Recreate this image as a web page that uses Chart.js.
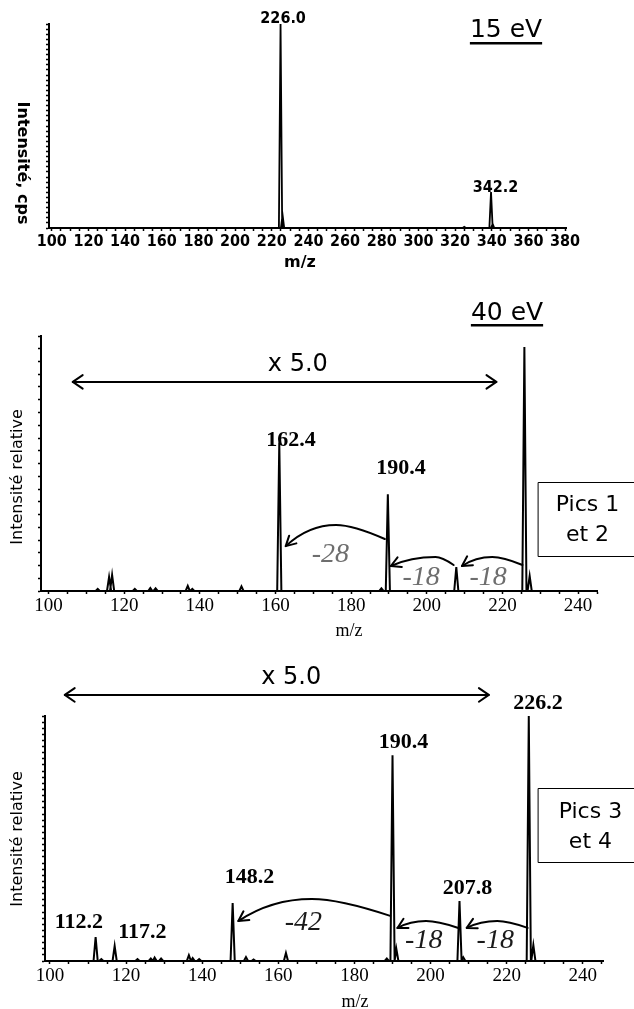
<!DOCTYPE html>
<html>
<head>
<meta charset="utf-8">
<script src="https://cdn.jsdelivr.net/npm/chart.js@4.4.0/dist/chart.umd.min.js"></script>
<style>
  body { margin: 0; background: #fff; width: 634px; }
  canvas { display: block; }
</style>
</head>
<body>
<canvas id="spec15" width="634" height="285"></canvas>
<canvas id="spec40a" width="634" height="355"></canvas>
<canvas id="spec40b" width="634" height="369"></canvas>
<script>
// --- 15 eV spectrum (peak centre m/z, relative height) ---
const mz15 = [224.8, 225.9, 325.0, 339.6, 340.5];
const int15 = [100, 6.5, 0.6, 17.6, 2.0];

// --- 40 eV, pics 1 et 2 ---
const mz40a = [113.0, 116.0, 116.8, 122.8, 126.9, 128.3, 136.8, 138.0, 151.0, 161.0, 188.0, 189.7, 207.8, 225.8, 227.2];
const int40a = [0.8, 5.5, 6.3, 0.8, 1.2, 1.0, 2.0, 0.8, 1.8, 58.2, 1.0, 37.9, 9.4, 95.7, 5.9];

// --- 40 eV, pics 3 et 4 ---
const mz40b = [112.0, 113.5, 117.0, 123.0, 126.5, 127.5, 129.2, 136.5, 137.5, 139.2, 148.0, 151.5, 153.5, 162.0, 188.5, 190.0, 191.0, 207.6, 208.6, 225.8, 227.0];
const int40b = [9.8, 0.8, 6.1, 0.8, 1.0, 1.4, 1.0, 2.4, 1.2, 0.8, 23.7, 1.6, 0.6, 3.3, 1.0, 84.0, 5.0, 24.5, 1.5, 100, 6.5];

const SANS = '"DejaVu Sans", sans-serif';
const COND = '"DejaVu Sans Condensed", "DejaVu Sans", sans-serif';
const SERIF = '"Liberation Serif", "Times New Roman", serif';

// one triangle per peak, all on the same baseline
const peakLine = (mz, ints, hw, xmin, xmax) => {
    const pts = [{x: xmin, y: 0}];
    mz.forEach((m, i) => {
        pts.push({x: m - hw, y: 0}, {x: m, y: ints[i]}, {x: m + hw, y: 0});
    });
    pts.push({x: xmax, y: 0});
    return pts;
};

const chevron = (ctx, x, y, ang, len, spread) => {
    ctx.beginPath();
    ctx.moveTo(x + Math.cos(ang + Math.PI - spread) * len, y + Math.sin(ang + Math.PI - spread) * len);
    ctx.lineTo(x, y);
    ctx.lineTo(x + Math.cos(ang + Math.PI + spread) * len, y + Math.sin(ang + Math.PI + spread) * len);
    ctx.stroke();
};

const notesPlugin = {
    id: 'notes',
    afterDraw(chart, args, opts) {
        const {ctx} = chart;
        const px = m => chart.scales.x.getPixelForValue(m);
        const py = v => chart.scales.y.getPixelForValue(v);
        ctx.save();
        ctx.strokeStyle = '#000';
        ctx.lineCap = 'round';
        ctx.lineJoin = 'round';

        (opts.spans || []).forEach(s => {
            const x1 = px(s.from), x2 = px(s.to), y = py(s.y);
            ctx.lineWidth = 2;
            ctx.beginPath();
            ctx.moveTo(x1, y);
            ctx.lineTo(x2, y);
            ctx.stroke();
            chevron(ctx, x1, y, Math.PI, 12, 0.6);
            chevron(ctx, x2, y, 0, 12, 0.6);
        });

        (opts.arcs || []).forEach(a => {
            const sx = px(a.from[0]), sy = py(a.from[1]);
            const hx = px(a.top[0]), hy = py(a.top[1]);
            const ex = px(a.to[0]), ey = py(a.to[1]);
            const c1x = hx + (sx - hx) * 0.35;
            const c2x = hx - (hx - ex) * 0.55;
            ctx.lineWidth = 2;
            ctx.beginPath();
            ctx.moveTo(sx, sy);
            ctx.quadraticCurveTo(c1x, hy, hx, hy);
            ctx.quadraticCurveTo(c2x, hy, ex, ey);
            ctx.stroke();
            chevron(ctx, ex, ey, Math.atan2(ey - hy, ex - c2x), 11, 0.5);
        });

        (opts.boxes || []).forEach(b => {
            ctx.lineWidth = 1;
            const x1 = Math.round(px(b.x1)) + 0.5, y1 = Math.round(py(b.y1)) + 0.5;
            const y2 = Math.round(py(b.y2)) + 0.5;
            ctx.strokeRect(x1, y1, 700, y2 - y1);
        });

        ctx.textAlign = 'center';
        ctx.textBaseline = 'middle';
        (opts.labels || []).forEach(l => {
            ctx.font = l.font;
            ctx.fillStyle = l.color || '#000';
            ctx.fillText(l.text, px(l.x), py(l.y));
        });

        // texts placed in canvas pixels (titles outside the plot)
        (opts.texts || []).forEach(t => {
            ctx.save();
            ctx.font = t.font;
            ctx.fillStyle = '#000';
            ctx.translate(t.px, t.py);
            ctx.rotate(t.rot || 0);
            ctx.fillText(t.text, 0, 0);
            if (t.underline) {
                const w = ctx.measureText(t.text).width;
                ctx.fillRect(-w / 2, t.underline, w, 2.5);
            }
            ctx.restore();
        });
        ctx.restore();
    }
};

const buildSpectrum = (cfg) => {
    const canvas = document.getElementById(cfg.id);
    const H = canvas.height;
    const {area} = cfg;
    return new Chart(canvas.getContext('2d'), {
        type: 'line',
        data: {
            datasets: [{
                data: peakLine(cfg.mz, cfg.ints, cfg.halfWidth, cfg.xMin, cfg.xMax),
                borderColor: '#000',
                borderWidth: cfg.lineWidth,
                pointRadius: 0,
                tension: 0,
                fill: false
            }]
        },
        options: {
            responsive: false,
            animation: false,
            events: [],
            layout: {padding: {left: 0, top: area.top, right: 634 - area.right, bottom: 0}},
            plugins: {
                legend: {display: false},
                tooltip: {enabled: false},
                notes: cfg.notes
            },
            scales: {
                x: {
                    type: 'linear',
                    min: cfg.xMin,
                    max: cfg.xMax,
                    afterFit: (s) => { s.height = H - area.bottom; },
                    border: {color: '#000', width: 2},
                    grid: {drawOnChartArea: false, tickLength: 3, tickColor: '#000', tickWidth: 1.5},
                    ticks: {
                        stepSize: cfg.xStep,
                        includeBounds: false,
                        autoSkip: false,
                        maxRotation: 0,
                        padding: 1,
                        color: '#000',
                        font: cfg.tickFont,
                        callback: (v) => (Math.abs(v % 20) < 1e-6 ? String(v) : '')
                    }
                },
                y: {
                    min: 0,
                    max: 100,
                    afterFit: (s) => { s.width = area.left; },
                    border: {color: '#000', width: 2},
                    grid: {drawOnChartArea: false, tickLength: 3, tickColor: '#000', tickWidth: 1.5},
                    ticks: {display: false, stepSize: cfg.yStep}
                }
            }
        },
        plugins: [notesPlugin]
    });
};

const peakFont = `bold 22px ${SERIF}`;
const lossFont = `italic 28px ${SERIF}`;
const boxFont = `22px ${SANS}`;

buildSpectrum({
    id: 'spec15', mz: mz15, ints: int15, halfWidth: 0.9, lineWidth: 1.8,
    area: {left: 49, top: 24, right: 566, bottom: 228},
    xMin: 98.5, xMax: 380.5, xStep: 5, yStep: 2.5,
    tickFont: {family: COND, size: 16, weight: 'bold'},
    notes: {
        labels: [
            {text: '226.0', x: 226.2, y: 102.5, font: `bold 16px ${COND}`},
            {text: '342.2', x: 342.0, y: 19.6, font: `bold 16px ${COND}`}
        ],
        texts: [
            {text: '15 eV', px: 506, py: 30, font: `25px ${SANS}`, underline: 12},
            {text: 'Intensité, cps', px: 22, py: 163, rot: Math.PI / 2, font: `bold 16px ${SANS}`},
            {text: 'm/z', px: 300, py: 263, font: `bold 16px ${SANS}`}
        ]
    }
});

buildSpectrum({
    id: 'spec40a', mz: mz40a, ints: int40a, halfWidth: 0.55, lineWidth: 2,
    area: {left: 41, top: 51, right: 597, bottom: 306},
    xMin: 98, xMax: 245, xStep: 5, yStep: 5,
    tickFont: {family: SERIF, size: 19},
    notes: {
        spans: [{from: 106.4, to: 218.4, y: 82}],
        arcs: [
            {from: [188.9, 20.4], top: [176.0, 25.9], to: [162.7, 17.6]},
            {from: [207.1, 10.2], top: [202.3, 13.3], to: [190.5, 9.8]},
            {from: [225.3, 10.2], top: [217.3, 13.3], to: [209.3, 9.8]}
        ],
        boxes: [{x1: 229.5, y1: 42.7, y2: 13.7}],
        labels: [
            {text: 'x 5.0', x: 165.9, y: 88.6, font: `24px ${SANS}`},
            {text: '162.4', x: 164.1, y: 59.2, font: peakFont},
            {text: '190.4', x: 193.2, y: 48.2, font: peakFont},
            {text: '-28', x: 174.5, y: 14.1, font: lossFont, color: '#6e6e6e'},
            {text: '-18', x: 198.5, y: 5.1, font: lossFont, color: '#6e6e6e'},
            {text: '-18', x: 216.2, y: 5.1, font: lossFont, color: '#6e6e6e'},
            {text: 'Pics 1', x: 242.5, y: 33.7, font: boxFont},
            {text: 'et 2', x: 242.5, y: 22.0, font: boxFont}
        ],
        texts: [
            {text: '40 eV', px: 507, py: 28, font: `25px ${SANS}`, underline: 11},
            {text: 'Intensité relative', px: 18, py: 192, rot: -Math.PI / 2, font: `16px ${SANS}`},
            {text: 'm/z', px: 349, py: 346, font: `18px ${SERIF}`}
        ]
    }
});

buildSpectrum({
    id: 'spec40b', mz: mz40b, ints: int40b, halfWidth: 0.55, lineWidth: 2,
    area: {left: 45, top: 76, right: 603, bottom: 321},
    xMin: 98.7, xMax: 245.3, xStep: 5, yStep: 2.5,
    tickFont: {family: SERIF, size: 19},
    notes: {
        spans: [{from: 103.9, to: 215.3, y: 108.6}],
        arcs: [
            {from: [189.4, 18.4], top: [168.8, 25.3], to: [149.5, 16.3]},
            {from: [207.3, 13.5], top: [198.8, 16.3], to: [191.3, 13.5]},
            {from: [225.5, 13.5], top: [217.5, 16.3], to: [209.5, 13.5]}
        ],
        boxes: [{x1: 228.2, y1: 70.6, y2: 40.4}],
        labels: [
            {text: 'x 5.0', x: 163.4, y: 115.5, font: `24px ${SANS}`},
            {text: '112.2', x: 107.6, y: 15.7, font: peakFont},
            {text: '117.2', x: 124.3, y: 11.8, font: peakFont},
            {text: '148.2', x: 152.4, y: 34.3, font: peakFont},
            {text: '190.4', x: 192.9, y: 89.4, font: peakFont},
            {text: '207.8', x: 209.7, y: 29.8, font: peakFont},
            {text: '226.2', x: 228.2, y: 105.3, font: peakFont},
            {text: '-42', x: 166.6, y: 15.5, font: lossFont, color: '#1a1a1a'},
            {text: '-18', x: 198.2, y: 8.2, font: lossFont, color: '#1a1a1a'},
            {text: '-18', x: 217.0, y: 8.2, font: lossFont, color: '#1a1a1a'},
            {text: 'Pics 3', x: 242.0, y: 60.8, font: boxFont},
            {text: 'et 4', x: 242.0, y: 48.6, font: boxFont}
        ],
        texts: [
            {text: 'Intensité relative', px: 18, py: 199, rot: -Math.PI / 2, font: `16px ${SANS}`},
            {text: 'm/z', px: 355, py: 362, font: `18px ${SERIF}`}
        ]
    }
});
</script>
</body>
</html>
